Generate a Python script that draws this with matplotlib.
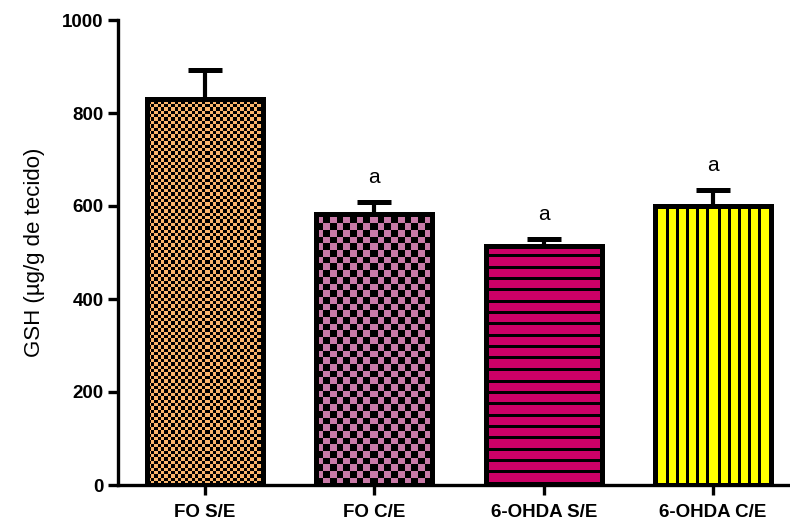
import numpy as np
import matplotlib
matplotlib.use("Agg")
import matplotlib.pyplot as plt

groups = ["FO S/E", "FO C/E", "6-OHDA S/E", "6-OHDA C/E"]
gsh_mean = [830, 582, 514, 601]
gsh_sem = [62, 26, 14, 33]
signif = ["", "a", "a", "a"]

fills = ["#F9B56C", "#C97AA8", "#CC0066", "#FFFF00"]
patterns = [("checker", 3.4), ("checker", 6.7), ("hlines", 11.3), ("vlines", 10.2)]

plt.rcParams["font.family"] = ["Liberation Sans", "DejaVu Sans"]

fig = plt.figure(figsize=(7.9, 5.26), dpi=100)
ax = fig.add_axes([118 / 790, 41 / 526, 672 / 790, 465 / 526])

x = np.arange(len(groups))
ax.set_xlim(-0.513, 3.454)
ax.set_ylim(0, 1000)

bars = ax.bar(x, gsh_mean, width=0.685, facecolor="none", edgecolor="black",
              linewidth=3.6, zorder=3)
ax.errorbar(x, gsh_mean, yerr=[np.zeros(len(x)), gsh_sem], fmt="none",
            ecolor="black", elinewidth=3, capsize=12, capthick=3.6, zorder=2)


def texture(bar, kind, step, color):
    # paint the bar interior with a pixel pattern clipped to the bar
    x0, y0 = bar.get_x(), bar.get_y()
    w, h = bar.get_width(), bar.get_height()
    (px0, py0), (px1, py1) = ax.transData.transform([(x0, y0), (x0 + w, y0 + h)])
    nx, ny = int(round(px1 - px0)), int(round(py1 - py0))
    jj, ii = np.meshgrid(np.arange(nx), np.arange(ny))
    if kind == "checker":
        mask = ((np.floor(jj / step) + np.floor(ii / step)) % 2) == 0
    elif kind == "hlines":
        mask = (ii % step) < 3
    else:
        mask = (jj % step) < 3
    rgb = np.array(matplotlib.colors.to_rgb(color))
    img = np.where(mask[..., None], np.zeros(3), rgb)
    ax.imshow(img, extent=(x0, x0 + w, y0, y0 + h), origin="lower",
              aspect="auto", interpolation="nearest", zorder=1)


for bar, (kind, step), col in zip(bars, patterns, fills):
    texture(bar, kind, step, col)
ax.set_xlim(-0.513, 3.454)
ax.set_ylim(0, 1000)

for xi, m, e, s in zip(x, gsh_mean, gsh_sem, signif):
    if s:
        ax.annotate(s, (xi, m + e), xytext=(0, 11), textcoords="offset points",
                    ha="center", va="bottom", fontsize=15)

for side in ["top", "right"]:
    ax.spines[side].set_visible(False)
for side in ["left", "bottom"]:
    ax.spines[side].set_linewidth(2.4)

ax.set_yticks([0, 200, 400, 600, 800, 1000])
ax.set_xticks(x)
ax.set_xticklabels(groups)
ax.tick_params(axis="both", width=2.4, length=7, labelsize=13.5)
ax.tick_params(axis="x", pad=7)
for lab in ax.get_xticklabels() + ax.get_yticklabels():
    lab.set_fontweight("bold")

ax.set_ylabel("GSH (µg/g de tecido)", fontsize=16, labelpad=12)

fig.savefig("out.png", dpi=100)
